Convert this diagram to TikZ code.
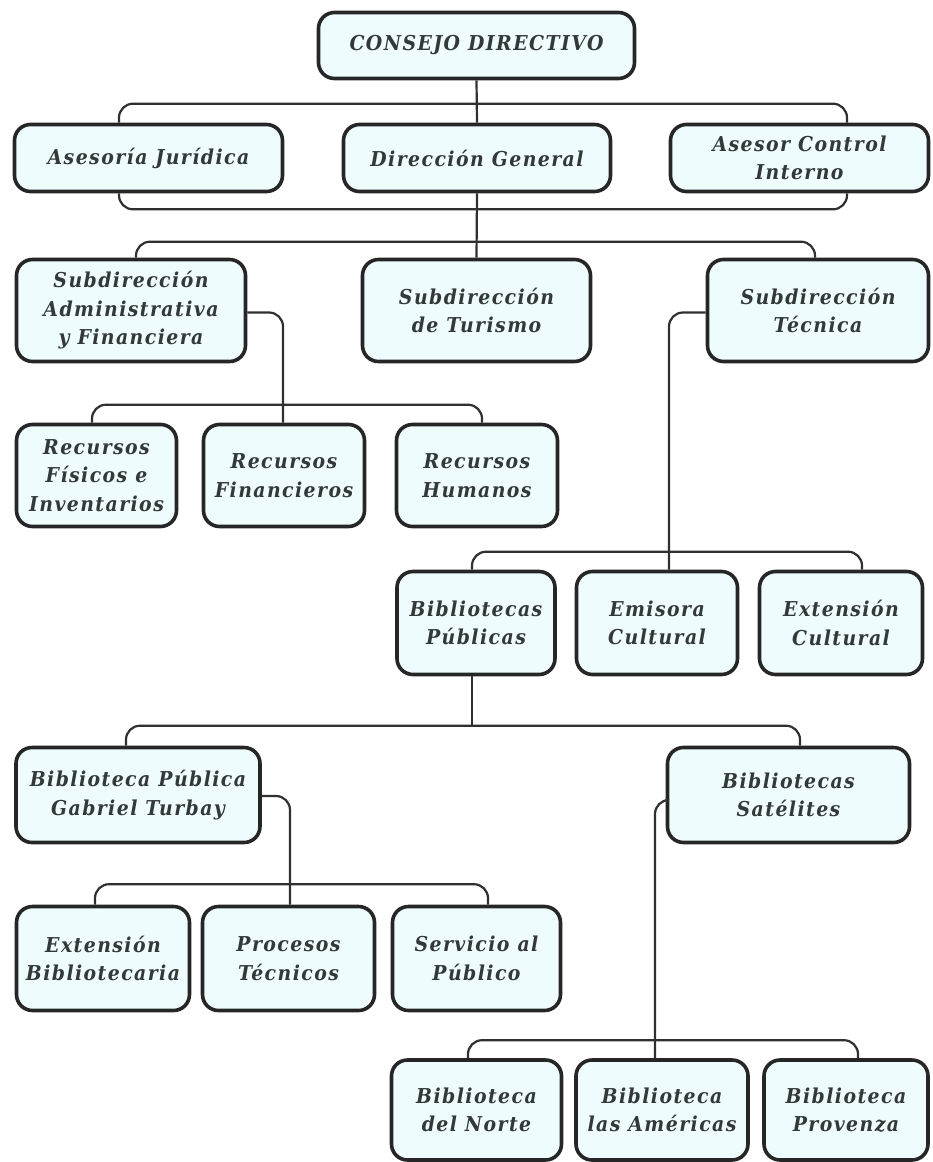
\documentclass[tikz,border=0pt]{standalone}
\usepackage{fontspec}
\setmainfont{DejaVu Serif}
\newfontfamily\orgfont[LetterSpace=7,FakeStretch=0.92]{DejaVu Serif}
\usetikzlibrary{calc}
\definecolor{boxfill}{HTML}{EFFCFD}
\definecolor{boxline}{HTML}{262626}
\definecolor{lineco}{HTML}{303030}
\definecolor{textcol}{HTML}{333838}
\tikzset{
  box/.style={draw=boxline, line width=3.6pt, rounded corners=16pt, fill=boxfill,
    align=center, inner sep=0pt, text=textcol,
    font=\orgfont\bfseries\itshape\fontsize{20.5}{28.5}\selectfont},
  conn/.style={draw=lineco, line width=2.2pt, rounded corners=14pt},
}
\begin{document}
\begin{tikzpicture}[x=1pt,y=-1pt]
\useasboundingbox (0,0) rectangle (932,1162);
\fill[white] (0,0) rectangle (932,1162);
% row 1
\node[box, minimum width=316pt, minimum height=66pt] (cd) at (476.5,45.5) {CONSEJO DIRECTIVO};
% row 2
\node[box, minimum width=268pt, minimum height=67pt] (aj) at (148.5,158) {Asesoría Jurídica};
\node[box, minimum width=267pt, minimum height=67pt] (dg) at (477,158) {Dirección General};
\node[box, minimum width=258pt, minimum height=67pt] (ac) at (799.5,158) {Asesor Control\\Interno};
% row 3
\node[box, minimum width=229pt, minimum height=102pt] (sa) at (131,310.5) {Subdirección\\Administrativa\\y Financiera};
\node[box, minimum width=228pt, minimum height=102pt] (st) at (476.5,310.5) {Subdirección\\de Turismo};
\node[box, minimum width=221pt, minimum height=102pt] (stc) at (818,310.5) {Subdirección\\Técnica};
% row 4
\node[box, minimum width=160pt, minimum height=102pt] (rf) at (96.5,475.5) {Recursos\\Físicos e\\Inventarios};
\node[box, minimum width=161pt, minimum height=102pt] (rfi) at (284,475.5) {Recursos\\Financieros};
\node[box, minimum width=161pt, minimum height=102pt] (rh) at (477,475.5) {Recursos\\Humanos};
% row 5
\node[box, minimum width=158pt, minimum height=103pt] (bp) at (476,623) {Bibliotecas\\Públicas};
\node[box, minimum width=161pt, minimum height=103pt] (ec) at (657,623) {Emisora\\Cultural};
\node[box, minimum width=163pt, minimum height=103pt] (ex) at (841,623) {Extensión\\Cultural};
% row 6
\node[box, minimum width=244pt, minimum height=95pt] (bpgt) at (138,795) {Biblioteca Pública\\Gabriel Turbay};
\node[box, minimum width=242pt, minimum height=95pt] (bs) at (788.5,795) {Bibliotecas\\Satélites};
% row 7
\node[box, minimum width=173pt, minimum height=104pt] (eb) at (103,958.5) {Extensión\\Bibliotecaria};
\node[box, minimum width=172pt, minimum height=104pt] (pt) at (288.5,958.5) {Procesos\\Técnicos};
\node[box, minimum width=168pt, minimum height=104pt] (sp) at (476.5,958.5) {Servicio al\\Público};
% row 8
\node[box, minimum width=170pt, minimum height=100pt] (bn) at (476.5,1110) {Biblioteca\\del Norte};
\node[box, minimum width=172pt, minimum height=100pt] (ba) at (662,1110) {Biblioteca\\las Américas};
\node[box, minimum width=164pt, minimum height=100pt] (bpv) at (846,1110) {Biblioteca\\Provenza};
% connectors
\draw[conn] (cd.south) -- (dg.north);
\draw[conn] ([xshift=-29.5pt]aj.north) |- ([yshift=19pt]dg.north) -| ([xshift=47.5pt]ac.north);
\draw[conn] ([xshift=-29.5pt]aj.south) |- ([yshift=-16pt]dg.south) -| ([xshift=47.5pt]ac.south);
\draw[conn] (dg.south) -- (st.north);
\draw[conn] ([xshift=5pt]sa.north) |- ([yshift=16pt]st.north) -| ([xshift=-3pt]stc.north);
\draw[conn] ([yshift=-2pt]sa.east) -| ([xshift=-1pt]rfi.north);
\draw[conn] ([xshift=-4.5pt]rf.north) |- ([yshift=18pt]rfi.north) -| ([xshift=5pt]rh.north);
\draw[conn] ([yshift=-2pt]stc.west) -| ([xshift=12pt]ec.north);
\draw[conn] ([xshift=-4pt]bp.north) |- ([yshift=18pt]ec.north) -| ([xshift=21pt]ex.north);
\coordinate (j6) at ($(bp.south |- bpgt.north)+(-4,-20)$);
\draw[conn] ([xshift=-4pt]bp.south) -- (j6);
\draw[conn] ([xshift=-12pt]bpgt.north) |- (j6) -| ([xshift=11.5pt]bs.north);
\draw[conn] ([yshift=-1pt]bpgt.east) -| ([xshift=1.5pt]pt.north);
\draw[conn] ([xshift=-8pt]eb.north) |- ([yshift=20.5pt]pt.north) -| ([xshift=11.5pt]sp.north);
\draw[conn] ([yshift=-5pt]bs.west) -| ([xshift=-7pt]ba.north);
\draw[conn] ([xshift=-8.5pt]bn.north) |- ([yshift=18pt]ba.north) -| ([xshift=12pt]bpv.north);
\end{tikzpicture}
\end{document}
